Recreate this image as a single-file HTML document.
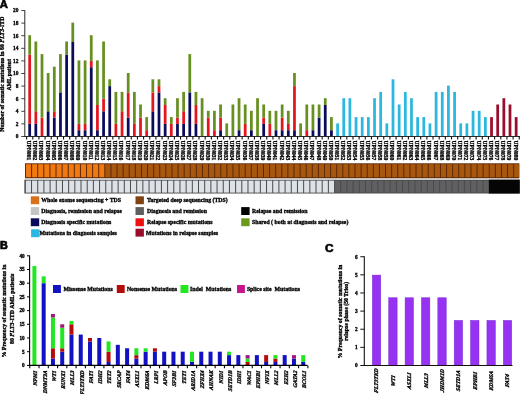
<!DOCTYPE html>
<html><head><meta charset="utf-8"><style>
html,body{margin:0;padding:0;background:#fff;}
body{width:520px;height:394px;overflow:hidden;}
svg{display:block;will-change:transform;filter:blur(0.3px);}
</style></head><body>
<svg width="520" height="394" viewBox="0 0 520 394">
<rect width="520" height="394" fill="#fff"/>
<text x="-0.2" y="8.2" font-family='"Liberation Sans", sans-serif' font-size="11.3" font-weight="bold" text-anchor="start" fill="#000" stroke="#000" stroke-width="0.6">A</text>
<rect x="28.3" y="123.9" width="2.75" height="12.6" fill="#0b0b5c"/>
<rect x="28.3" y="54.6" width="2.75" height="69.3" fill="#e3151f"/>
<rect x="28.3" y="35.2" width="2.75" height="19.4" fill="#66901f"/>
<rect x="34.46" y="123.9" width="2.75" height="12.6" fill="#0b0b5c"/>
<rect x="34.46" y="111.3" width="2.75" height="12.6" fill="#e3151f"/>
<rect x="34.46" y="41.5" width="2.75" height="69.8" fill="#66901f"/>
<rect x="40.62" y="117.6" width="2.75" height="18.9" fill="#e3151f"/>
<rect x="40.62" y="54.1" width="2.75" height="63.5" fill="#66901f"/>
<rect x="46.77" y="111.3" width="2.75" height="25.2" fill="#0b0b5c"/>
<rect x="46.77" y="73" width="2.75" height="38.3" fill="#66901f"/>
<rect x="52.93" y="117.6" width="2.75" height="18.9" fill="#0b0b5c"/>
<rect x="52.93" y="111.3" width="2.75" height="6.3" fill="#e3151f"/>
<rect x="52.93" y="66.7" width="2.75" height="44.6" fill="#66901f"/>
<rect x="59.09" y="92.4" width="2.75" height="44.1" fill="#0b0b5c"/>
<rect x="59.09" y="54.1" width="2.75" height="38.3" fill="#66901f"/>
<rect x="65.25" y="54.6" width="2.75" height="81.9" fill="#0b0b5c"/>
<rect x="65.25" y="41.5" width="2.75" height="13.1" fill="#66901f"/>
<rect x="71.41" y="42" width="2.75" height="94.5" fill="#0b0b5c"/>
<rect x="71.41" y="22.6" width="2.75" height="19.4" fill="#66901f"/>
<rect x="77.56" y="130.2" width="2.75" height="6.3" fill="#0b0b5c"/>
<rect x="77.56" y="123.9" width="2.75" height="6.3" fill="#e3151f"/>
<rect x="77.56" y="60.4" width="2.75" height="63.5" fill="#66901f"/>
<rect x="83.72" y="130.2" width="2.75" height="6.3" fill="#0b0b5c"/>
<rect x="83.72" y="123.9" width="2.75" height="6.3" fill="#e3151f"/>
<rect x="83.72" y="60.4" width="2.75" height="63.5" fill="#66901f"/>
<rect x="89.88" y="67.2" width="2.75" height="69.3" fill="#0b0b5c"/>
<rect x="89.88" y="60.9" width="2.75" height="6.3" fill="#e3151f"/>
<rect x="89.88" y="35.2" width="2.75" height="25.7" fill="#66901f"/>
<rect x="96.04" y="130.2" width="2.75" height="6.3" fill="#0b0b5c"/>
<rect x="96.04" y="105" width="2.75" height="25.2" fill="#e3151f"/>
<rect x="96.04" y="60.4" width="2.75" height="44.6" fill="#66901f"/>
<rect x="102.2" y="111.3" width="2.75" height="25.2" fill="#0b0b5c"/>
<rect x="102.2" y="98.7" width="2.75" height="12.6" fill="#e3151f"/>
<rect x="102.2" y="41.5" width="2.75" height="57.2" fill="#66901f"/>
<rect x="108.35" y="86.1" width="2.75" height="50.4" fill="#0b0b5c"/>
<rect x="108.35" y="79.3" width="2.75" height="6.8" fill="#66901f"/>
<rect x="114.51" y="123.9" width="2.75" height="12.6" fill="#e3151f"/>
<rect x="114.51" y="91.9" width="2.75" height="32" fill="#66901f"/>
<rect x="120.67" y="111.3" width="2.75" height="25.2" fill="#e3151f"/>
<rect x="120.67" y="91.9" width="2.75" height="19.4" fill="#66901f"/>
<rect x="126.83" y="117.6" width="2.75" height="18.9" fill="#0b0b5c"/>
<rect x="126.83" y="92.4" width="2.75" height="25.2" fill="#e3151f"/>
<rect x="126.83" y="73" width="2.75" height="19.4" fill="#66901f"/>
<rect x="132.99" y="123.9" width="2.75" height="12.6" fill="#e3151f"/>
<rect x="132.99" y="91.9" width="2.75" height="32" fill="#66901f"/>
<rect x="139.14" y="117.6" width="2.75" height="18.9" fill="#e3151f"/>
<rect x="139.14" y="104.5" width="2.75" height="13.1" fill="#66901f"/>
<rect x="145.3" y="130.2" width="2.75" height="6.3" fill="#e3151f"/>
<rect x="145.3" y="117.1" width="2.75" height="13.1" fill="#66901f"/>
<rect x="151.46" y="111.3" width="2.75" height="25.2" fill="#0b0b5c"/>
<rect x="151.46" y="92.4" width="2.75" height="18.9" fill="#e3151f"/>
<rect x="151.46" y="79.3" width="2.75" height="13.1" fill="#66901f"/>
<rect x="157.62" y="92.4" width="2.75" height="44.1" fill="#0b0b5c"/>
<rect x="157.62" y="86.1" width="2.75" height="6.3" fill="#e3151f"/>
<rect x="157.62" y="79.3" width="2.75" height="6.8" fill="#66901f"/>
<rect x="163.78" y="123.9" width="2.75" height="12.6" fill="#0b0b5c"/>
<rect x="163.78" y="105" width="2.75" height="18.9" fill="#e3151f"/>
<rect x="163.78" y="98.2" width="2.75" height="6.8" fill="#66901f"/>
<rect x="169.93" y="123.9" width="2.75" height="12.6" fill="#e3151f"/>
<rect x="169.93" y="117.1" width="2.75" height="6.8" fill="#66901f"/>
<rect x="176.09" y="123.9" width="2.75" height="12.6" fill="#0b0b5c"/>
<rect x="176.09" y="117.6" width="2.75" height="6.3" fill="#e3151f"/>
<rect x="176.09" y="98.2" width="2.75" height="19.4" fill="#66901f"/>
<rect x="182.25" y="123.9" width="2.75" height="12.6" fill="#0b0b5c"/>
<rect x="182.25" y="111.3" width="2.75" height="12.6" fill="#e3151f"/>
<rect x="182.25" y="91.9" width="2.75" height="19.4" fill="#66901f"/>
<rect x="188.41" y="92.4" width="2.75" height="44.1" fill="#0b0b5c"/>
<rect x="188.41" y="54.1" width="2.75" height="38.3" fill="#66901f"/>
<rect x="194.57" y="123.9" width="2.75" height="12.6" fill="#0b0b5c"/>
<rect x="194.57" y="105" width="2.75" height="18.9" fill="#e3151f"/>
<rect x="194.57" y="91.9" width="2.75" height="13.1" fill="#66901f"/>
<rect x="200.72" y="98.2" width="2.75" height="38.3" fill="#66901f"/>
<rect x="206.88" y="117.6" width="2.75" height="18.9" fill="#e3151f"/>
<rect x="206.88" y="110.8" width="2.75" height="6.8" fill="#66901f"/>
<rect x="213.04" y="130.2" width="2.75" height="6.3" fill="#e3151f"/>
<rect x="213.04" y="110.8" width="2.75" height="19.4" fill="#66901f"/>
<rect x="219.2" y="130.2" width="2.75" height="6.3" fill="#0b0b5c"/>
<rect x="219.2" y="117.6" width="2.75" height="12.6" fill="#e3151f"/>
<rect x="219.2" y="104.5" width="2.75" height="13.1" fill="#66901f"/>
<rect x="225.36" y="123.4" width="2.75" height="13.1" fill="#66901f"/>
<rect x="231.51" y="104.5" width="2.75" height="32" fill="#66901f"/>
<rect x="237.67" y="130.2" width="2.75" height="6.3" fill="#0b0b5c"/>
<rect x="237.67" y="98.2" width="2.75" height="32" fill="#66901f"/>
<rect x="243.83" y="123.9" width="2.75" height="12.6" fill="#e3151f"/>
<rect x="243.83" y="104.5" width="2.75" height="19.4" fill="#66901f"/>
<rect x="249.99" y="130.2" width="2.75" height="6.3" fill="#0b0b5c"/>
<rect x="249.99" y="110.8" width="2.75" height="19.4" fill="#66901f"/>
<rect x="256.15" y="98.2" width="2.75" height="38.3" fill="#66901f"/>
<rect x="262.3" y="123.9" width="2.75" height="12.6" fill="#0b0b5c"/>
<rect x="262.3" y="117.6" width="2.75" height="6.3" fill="#e3151f"/>
<rect x="262.3" y="104.5" width="2.75" height="13.1" fill="#66901f"/>
<rect x="268.46" y="123.9" width="2.75" height="12.6" fill="#e3151f"/>
<rect x="268.46" y="110.8" width="2.75" height="13.1" fill="#66901f"/>
<rect x="274.62" y="130.2" width="2.75" height="6.3" fill="#0b0b5c"/>
<rect x="274.62" y="110.8" width="2.75" height="19.4" fill="#66901f"/>
<rect x="280.78" y="130.2" width="2.75" height="6.3" fill="#0b0b5c"/>
<rect x="280.78" y="117.6" width="2.75" height="12.6" fill="#e3151f"/>
<rect x="280.78" y="104.5" width="2.75" height="13.1" fill="#66901f"/>
<rect x="286.94" y="130.2" width="2.75" height="6.3" fill="#0b0b5c"/>
<rect x="286.94" y="123.9" width="2.75" height="6.3" fill="#e3151f"/>
<rect x="286.94" y="110.8" width="2.75" height="13.1" fill="#66901f"/>
<rect x="293.09" y="130.2" width="2.75" height="6.3" fill="#0b0b5c"/>
<rect x="293.09" y="86.1" width="2.75" height="44.1" fill="#e3151f"/>
<rect x="293.09" y="73" width="2.75" height="13.1" fill="#66901f"/>
<rect x="299.25" y="123.4" width="2.75" height="13.1" fill="#66901f"/>
<rect x="305.41" y="130.2" width="2.75" height="6.3" fill="#e3151f"/>
<rect x="305.41" y="104.5" width="2.75" height="25.7" fill="#66901f"/>
<rect x="311.57" y="130.2" width="2.75" height="6.3" fill="#0b0b5c"/>
<rect x="311.57" y="104.5" width="2.75" height="25.7" fill="#66901f"/>
<rect x="317.73" y="117.6" width="2.75" height="18.9" fill="#0b0b5c"/>
<rect x="317.73" y="104.5" width="2.75" height="13.1" fill="#66901f"/>
<rect x="323.88" y="105" width="2.75" height="31.5" fill="#0b0b5c"/>
<rect x="323.88" y="98.2" width="2.75" height="6.8" fill="#66901f"/>
<rect x="330.04" y="130.2" width="2.75" height="6.3" fill="#0b0b5c"/>
<rect x="330.04" y="117.1" width="2.75" height="13.1" fill="#66901f"/>
<rect x="336.2" y="123.4" width="2.75" height="13.1" fill="#2bb7df"/>
<rect x="342.36" y="98.2" width="2.75" height="38.3" fill="#2bb7df"/>
<rect x="348.52" y="98.2" width="2.75" height="38.3" fill="#2bb7df"/>
<rect x="354.67" y="117.1" width="2.75" height="19.4" fill="#2bb7df"/>
<rect x="360.83" y="117.1" width="2.75" height="19.4" fill="#2bb7df"/>
<rect x="366.99" y="117.1" width="2.75" height="19.4" fill="#2bb7df"/>
<rect x="373.15" y="98.2" width="2.75" height="38.3" fill="#2bb7df"/>
<rect x="379.31" y="91.9" width="2.75" height="44.6" fill="#2bb7df"/>
<rect x="385.46" y="123.4" width="2.75" height="13.1" fill="#2bb7df"/>
<rect x="391.62" y="79.3" width="2.75" height="57.2" fill="#2bb7df"/>
<rect x="397.78" y="104.5" width="2.75" height="32" fill="#2bb7df"/>
<rect x="403.94" y="91.9" width="2.75" height="44.6" fill="#2bb7df"/>
<rect x="410.1" y="98.2" width="2.75" height="38.3" fill="#2bb7df"/>
<rect x="416.25" y="117.1" width="2.75" height="19.4" fill="#2bb7df"/>
<rect x="422.41" y="117.1" width="2.75" height="19.4" fill="#2bb7df"/>
<rect x="428.57" y="123.4" width="2.75" height="13.1" fill="#2bb7df"/>
<rect x="434.73" y="91.9" width="2.75" height="44.6" fill="#2bb7df"/>
<rect x="440.89" y="91.9" width="2.75" height="44.6" fill="#2bb7df"/>
<rect x="447.04" y="85.6" width="2.75" height="50.9" fill="#2bb7df"/>
<rect x="453.2" y="91.9" width="2.75" height="44.6" fill="#2bb7df"/>
<rect x="459.36" y="123.4" width="2.75" height="13.1" fill="#2bb7df"/>
<rect x="465.52" y="123.4" width="2.75" height="13.1" fill="#2bb7df"/>
<rect x="471.68" y="110.8" width="2.75" height="25.7" fill="#2bb7df"/>
<rect x="477.83" y="110.8" width="2.75" height="25.7" fill="#2bb7df"/>
<rect x="483.99" y="117.1" width="2.75" height="19.4" fill="#2bb7df"/>
<rect x="490.15" y="117.1" width="2.75" height="19.4" fill="#990c2c"/>
<rect x="496.31" y="104.5" width="2.75" height="32" fill="#990c2c"/>
<rect x="502.47" y="98.2" width="2.75" height="38.3" fill="#990c2c"/>
<rect x="508.62" y="104.5" width="2.75" height="32" fill="#990c2c"/>
<rect x="514.78" y="117.1" width="2.75" height="19.4" fill="#990c2c"/>
<line x1="24.8" y1="10.1" x2="24.8" y2="137" stroke="#2a2a2a" stroke-width="1"/>
<line x1="21.3" y1="136.5" x2="24.8" y2="136.5" stroke="#2a2a2a" stroke-width="0.9"/>
<text x="18.5" y="138.3" font-family='"Liberation Serif", serif' font-size="5.4" font-weight="bold" text-anchor="end" fill="#000" stroke="#000" stroke-width="0.32">0</text>
<line x1="21.3" y1="123.9" x2="24.8" y2="123.9" stroke="#2a2a2a" stroke-width="0.9"/>
<text x="18.5" y="125.7" font-family='"Liberation Serif", serif' font-size="5.4" font-weight="bold" text-anchor="end" fill="#000" stroke="#000" stroke-width="0.32">2</text>
<line x1="21.3" y1="111.3" x2="24.8" y2="111.3" stroke="#2a2a2a" stroke-width="0.9"/>
<text x="18.5" y="113.1" font-family='"Liberation Serif", serif' font-size="5.4" font-weight="bold" text-anchor="end" fill="#000" stroke="#000" stroke-width="0.32">4</text>
<line x1="21.3" y1="98.7" x2="24.8" y2="98.7" stroke="#2a2a2a" stroke-width="0.9"/>
<text x="18.5" y="100.5" font-family='"Liberation Serif", serif' font-size="5.4" font-weight="bold" text-anchor="end" fill="#000" stroke="#000" stroke-width="0.32">6</text>
<line x1="21.3" y1="86.1" x2="24.8" y2="86.1" stroke="#2a2a2a" stroke-width="0.9"/>
<text x="18.5" y="87.9" font-family='"Liberation Serif", serif' font-size="5.4" font-weight="bold" text-anchor="end" fill="#000" stroke="#000" stroke-width="0.32">8</text>
<line x1="21.3" y1="73.5" x2="24.8" y2="73.5" stroke="#2a2a2a" stroke-width="0.9"/>
<text x="18.5" y="75.3" font-family='"Liberation Serif", serif' font-size="5.4" font-weight="bold" text-anchor="end" fill="#000" stroke="#000" stroke-width="0.32">10</text>
<line x1="21.3" y1="60.9" x2="24.8" y2="60.9" stroke="#2a2a2a" stroke-width="0.9"/>
<text x="18.5" y="62.7" font-family='"Liberation Serif", serif' font-size="5.4" font-weight="bold" text-anchor="end" fill="#000" stroke="#000" stroke-width="0.32">12</text>
<line x1="21.3" y1="48.3" x2="24.8" y2="48.3" stroke="#2a2a2a" stroke-width="0.9"/>
<text x="18.5" y="50.1" font-family='"Liberation Serif", serif' font-size="5.4" font-weight="bold" text-anchor="end" fill="#000" stroke="#000" stroke-width="0.32">14</text>
<line x1="21.3" y1="35.7" x2="24.8" y2="35.7" stroke="#2a2a2a" stroke-width="0.9"/>
<text x="18.5" y="37.5" font-family='"Liberation Serif", serif' font-size="5.4" font-weight="bold" text-anchor="end" fill="#000" stroke="#000" stroke-width="0.32">16</text>
<line x1="21.3" y1="23.1" x2="24.8" y2="23.1" stroke="#2a2a2a" stroke-width="0.9"/>
<text x="18.5" y="24.9" font-family='"Liberation Serif", serif' font-size="5.4" font-weight="bold" text-anchor="end" fill="#000" stroke="#000" stroke-width="0.32">18</text>
<line x1="21.3" y1="10.5" x2="24.8" y2="10.5" stroke="#2a2a2a" stroke-width="0.9"/>
<text x="18.5" y="12.3" font-family='"Liberation Serif", serif' font-size="5.4" font-weight="bold" text-anchor="end" fill="#000" stroke="#000" stroke-width="0.32">20</text>
<line x1="24.3" y1="136.5" x2="520" y2="136.5" stroke="#2a2a2a" stroke-width="1"/>
<line x1="26.6" y1="136.5" x2="26.6" y2="139.4" stroke="#111" stroke-width="1.1"/>
<line x1="32.76" y1="136.5" x2="32.76" y2="139.4" stroke="#111" stroke-width="1.1"/>
<line x1="38.92" y1="136.5" x2="38.92" y2="139.4" stroke="#111" stroke-width="1.1"/>
<line x1="45.07" y1="136.5" x2="45.07" y2="139.4" stroke="#111" stroke-width="1.1"/>
<line x1="51.23" y1="136.5" x2="51.23" y2="139.4" stroke="#111" stroke-width="1.1"/>
<line x1="57.39" y1="136.5" x2="57.39" y2="139.4" stroke="#111" stroke-width="1.1"/>
<line x1="63.55" y1="136.5" x2="63.55" y2="139.4" stroke="#111" stroke-width="1.1"/>
<line x1="69.71" y1="136.5" x2="69.71" y2="139.4" stroke="#111" stroke-width="1.1"/>
<line x1="75.86" y1="136.5" x2="75.86" y2="139.4" stroke="#111" stroke-width="1.1"/>
<line x1="82.02" y1="136.5" x2="82.02" y2="139.4" stroke="#111" stroke-width="1.1"/>
<line x1="88.18" y1="136.5" x2="88.18" y2="139.4" stroke="#111" stroke-width="1.1"/>
<line x1="94.34" y1="136.5" x2="94.34" y2="139.4" stroke="#111" stroke-width="1.1"/>
<line x1="100.5" y1="136.5" x2="100.5" y2="139.4" stroke="#111" stroke-width="1.1"/>
<line x1="106.65" y1="136.5" x2="106.65" y2="139.4" stroke="#111" stroke-width="1.1"/>
<line x1="112.81" y1="136.5" x2="112.81" y2="139.4" stroke="#111" stroke-width="1.1"/>
<line x1="118.97" y1="136.5" x2="118.97" y2="139.4" stroke="#111" stroke-width="1.1"/>
<line x1="125.13" y1="136.5" x2="125.13" y2="139.4" stroke="#111" stroke-width="1.1"/>
<line x1="131.29" y1="136.5" x2="131.29" y2="139.4" stroke="#111" stroke-width="1.1"/>
<line x1="137.44" y1="136.5" x2="137.44" y2="139.4" stroke="#111" stroke-width="1.1"/>
<line x1="143.6" y1="136.5" x2="143.6" y2="139.4" stroke="#111" stroke-width="1.1"/>
<line x1="149.76" y1="136.5" x2="149.76" y2="139.4" stroke="#111" stroke-width="1.1"/>
<line x1="155.92" y1="136.5" x2="155.92" y2="139.4" stroke="#111" stroke-width="1.1"/>
<line x1="162.08" y1="136.5" x2="162.08" y2="139.4" stroke="#111" stroke-width="1.1"/>
<line x1="168.23" y1="136.5" x2="168.23" y2="139.4" stroke="#111" stroke-width="1.1"/>
<line x1="174.39" y1="136.5" x2="174.39" y2="139.4" stroke="#111" stroke-width="1.1"/>
<line x1="180.55" y1="136.5" x2="180.55" y2="139.4" stroke="#111" stroke-width="1.1"/>
<line x1="186.71" y1="136.5" x2="186.71" y2="139.4" stroke="#111" stroke-width="1.1"/>
<line x1="192.87" y1="136.5" x2="192.87" y2="139.4" stroke="#111" stroke-width="1.1"/>
<line x1="199.02" y1="136.5" x2="199.02" y2="139.4" stroke="#111" stroke-width="1.1"/>
<line x1="205.18" y1="136.5" x2="205.18" y2="139.4" stroke="#111" stroke-width="1.1"/>
<line x1="211.34" y1="136.5" x2="211.34" y2="139.4" stroke="#111" stroke-width="1.1"/>
<line x1="217.5" y1="136.5" x2="217.5" y2="139.4" stroke="#111" stroke-width="1.1"/>
<line x1="223.66" y1="136.5" x2="223.66" y2="139.4" stroke="#111" stroke-width="1.1"/>
<line x1="229.81" y1="136.5" x2="229.81" y2="139.4" stroke="#111" stroke-width="1.1"/>
<line x1="235.97" y1="136.5" x2="235.97" y2="139.4" stroke="#111" stroke-width="1.1"/>
<line x1="242.13" y1="136.5" x2="242.13" y2="139.4" stroke="#111" stroke-width="1.1"/>
<line x1="248.29" y1="136.5" x2="248.29" y2="139.4" stroke="#111" stroke-width="1.1"/>
<line x1="254.45" y1="136.5" x2="254.45" y2="139.4" stroke="#111" stroke-width="1.1"/>
<line x1="260.6" y1="136.5" x2="260.6" y2="139.4" stroke="#111" stroke-width="1.1"/>
<line x1="266.76" y1="136.5" x2="266.76" y2="139.4" stroke="#111" stroke-width="1.1"/>
<line x1="272.92" y1="136.5" x2="272.92" y2="139.4" stroke="#111" stroke-width="1.1"/>
<line x1="279.08" y1="136.5" x2="279.08" y2="139.4" stroke="#111" stroke-width="1.1"/>
<line x1="285.24" y1="136.5" x2="285.24" y2="139.4" stroke="#111" stroke-width="1.1"/>
<line x1="291.39" y1="136.5" x2="291.39" y2="139.4" stroke="#111" stroke-width="1.1"/>
<line x1="297.55" y1="136.5" x2="297.55" y2="139.4" stroke="#111" stroke-width="1.1"/>
<line x1="303.71" y1="136.5" x2="303.71" y2="139.4" stroke="#111" stroke-width="1.1"/>
<line x1="309.87" y1="136.5" x2="309.87" y2="139.4" stroke="#111" stroke-width="1.1"/>
<line x1="316.03" y1="136.5" x2="316.03" y2="139.4" stroke="#111" stroke-width="1.1"/>
<line x1="322.18" y1="136.5" x2="322.18" y2="139.4" stroke="#111" stroke-width="1.1"/>
<line x1="328.34" y1="136.5" x2="328.34" y2="139.4" stroke="#111" stroke-width="1.1"/>
<line x1="334.5" y1="136.5" x2="334.5" y2="139.4" stroke="#111" stroke-width="1.1"/>
<line x1="340.66" y1="136.5" x2="340.66" y2="139.4" stroke="#111" stroke-width="1.1"/>
<line x1="346.82" y1="136.5" x2="346.82" y2="139.4" stroke="#111" stroke-width="1.1"/>
<line x1="352.97" y1="136.5" x2="352.97" y2="139.4" stroke="#111" stroke-width="1.1"/>
<line x1="359.13" y1="136.5" x2="359.13" y2="139.4" stroke="#111" stroke-width="1.1"/>
<line x1="365.29" y1="136.5" x2="365.29" y2="139.4" stroke="#111" stroke-width="1.1"/>
<line x1="371.45" y1="136.5" x2="371.45" y2="139.4" stroke="#111" stroke-width="1.1"/>
<line x1="377.61" y1="136.5" x2="377.61" y2="139.4" stroke="#111" stroke-width="1.1"/>
<line x1="383.76" y1="136.5" x2="383.76" y2="139.4" stroke="#111" stroke-width="1.1"/>
<line x1="389.92" y1="136.5" x2="389.92" y2="139.4" stroke="#111" stroke-width="1.1"/>
<line x1="396.08" y1="136.5" x2="396.08" y2="139.4" stroke="#111" stroke-width="1.1"/>
<line x1="402.24" y1="136.5" x2="402.24" y2="139.4" stroke="#111" stroke-width="1.1"/>
<line x1="408.4" y1="136.5" x2="408.4" y2="139.4" stroke="#111" stroke-width="1.1"/>
<line x1="414.55" y1="136.5" x2="414.55" y2="139.4" stroke="#111" stroke-width="1.1"/>
<line x1="420.71" y1="136.5" x2="420.71" y2="139.4" stroke="#111" stroke-width="1.1"/>
<line x1="426.87" y1="136.5" x2="426.87" y2="139.4" stroke="#111" stroke-width="1.1"/>
<line x1="433.03" y1="136.5" x2="433.03" y2="139.4" stroke="#111" stroke-width="1.1"/>
<line x1="439.19" y1="136.5" x2="439.19" y2="139.4" stroke="#111" stroke-width="1.1"/>
<line x1="445.34" y1="136.5" x2="445.34" y2="139.4" stroke="#111" stroke-width="1.1"/>
<line x1="451.5" y1="136.5" x2="451.5" y2="139.4" stroke="#111" stroke-width="1.1"/>
<line x1="457.66" y1="136.5" x2="457.66" y2="139.4" stroke="#111" stroke-width="1.1"/>
<line x1="463.82" y1="136.5" x2="463.82" y2="139.4" stroke="#111" stroke-width="1.1"/>
<line x1="469.98" y1="136.5" x2="469.98" y2="139.4" stroke="#111" stroke-width="1.1"/>
<line x1="476.13" y1="136.5" x2="476.13" y2="139.4" stroke="#111" stroke-width="1.1"/>
<line x1="482.29" y1="136.5" x2="482.29" y2="139.4" stroke="#111" stroke-width="1.1"/>
<line x1="488.45" y1="136.5" x2="488.45" y2="139.4" stroke="#111" stroke-width="1.1"/>
<line x1="494.61" y1="136.5" x2="494.61" y2="139.4" stroke="#111" stroke-width="1.1"/>
<line x1="500.77" y1="136.5" x2="500.77" y2="139.4" stroke="#111" stroke-width="1.1"/>
<line x1="506.92" y1="136.5" x2="506.92" y2="139.4" stroke="#111" stroke-width="1.1"/>
<line x1="513.08" y1="136.5" x2="513.08" y2="139.4" stroke="#111" stroke-width="1.1"/>
<line x1="519.24" y1="136.5" x2="519.24" y2="139.4" stroke="#111" stroke-width="1.1"/>
<text transform="translate(27.1,140.6) rotate(90)" font-family='"Liberation Serif", serif' font-size="5.5" font-weight="bold" text-anchor="start" fill="#000" stroke="#000" stroke-width="0.32">UPN001</text>
<text transform="translate(33.26,140.6) rotate(90)" font-family='"Liberation Serif", serif' font-size="5.5" font-weight="bold" text-anchor="start" fill="#000" stroke="#000" stroke-width="0.32">UPN002</text>
<text transform="translate(39.42,140.6) rotate(90)" font-family='"Liberation Serif", serif' font-size="5.5" font-weight="bold" text-anchor="start" fill="#000" stroke="#000" stroke-width="0.32">UPN003</text>
<text transform="translate(45.57,140.6) rotate(90)" font-family='"Liberation Serif", serif' font-size="5.5" font-weight="bold" text-anchor="start" fill="#000" stroke="#000" stroke-width="0.32">UPN004</text>
<text transform="translate(51.73,140.6) rotate(90)" font-family='"Liberation Serif", serif' font-size="5.5" font-weight="bold" text-anchor="start" fill="#000" stroke="#000" stroke-width="0.32">UPN005</text>
<text transform="translate(57.89,140.6) rotate(90)" font-family='"Liberation Serif", serif' font-size="5.5" font-weight="bold" text-anchor="start" fill="#000" stroke="#000" stroke-width="0.32">UPN006</text>
<text transform="translate(64.05,140.6) rotate(90)" font-family='"Liberation Serif", serif' font-size="5.5" font-weight="bold" text-anchor="start" fill="#000" stroke="#000" stroke-width="0.32">UPN007</text>
<text transform="translate(70.21,140.6) rotate(90)" font-family='"Liberation Serif", serif' font-size="5.5" font-weight="bold" text-anchor="start" fill="#000" stroke="#000" stroke-width="0.32">UPN008</text>
<text transform="translate(76.36,140.6) rotate(90)" font-family='"Liberation Serif", serif' font-size="5.5" font-weight="bold" text-anchor="start" fill="#000" stroke="#000" stroke-width="0.32">UPN009</text>
<text transform="translate(82.52,140.6) rotate(90)" font-family='"Liberation Serif", serif' font-size="5.5" font-weight="bold" text-anchor="start" fill="#000" stroke="#000" stroke-width="0.32">UPN010</text>
<text transform="translate(88.68,140.6) rotate(90)" font-family='"Liberation Serif", serif' font-size="5.5" font-weight="bold" text-anchor="start" fill="#000" stroke="#000" stroke-width="0.32">UPN011</text>
<text transform="translate(94.84,140.6) rotate(90)" font-family='"Liberation Serif", serif' font-size="5.5" font-weight="bold" text-anchor="start" fill="#000" stroke="#000" stroke-width="0.32">UPN012</text>
<text transform="translate(101,140.6) rotate(90)" font-family='"Liberation Serif", serif' font-size="5.5" font-weight="bold" text-anchor="start" fill="#000" stroke="#000" stroke-width="0.32">UPN013</text>
<text transform="translate(107.15,140.6) rotate(90)" font-family='"Liberation Serif", serif' font-size="5.5" font-weight="bold" text-anchor="start" fill="#000" stroke="#000" stroke-width="0.32">UPN014</text>
<text transform="translate(113.31,140.6) rotate(90)" font-family='"Liberation Serif", serif' font-size="5.5" font-weight="bold" text-anchor="start" fill="#000" stroke="#000" stroke-width="0.32">UPN015</text>
<text transform="translate(119.47,140.6) rotate(90)" font-family='"Liberation Serif", serif' font-size="5.5" font-weight="bold" text-anchor="start" fill="#000" stroke="#000" stroke-width="0.32">UPN016</text>
<text transform="translate(125.63,140.6) rotate(90)" font-family='"Liberation Serif", serif' font-size="5.5" font-weight="bold" text-anchor="start" fill="#000" stroke="#000" stroke-width="0.32">UPN017</text>
<text transform="translate(131.79,140.6) rotate(90)" font-family='"Liberation Serif", serif' font-size="5.5" font-weight="bold" text-anchor="start" fill="#000" stroke="#000" stroke-width="0.32">UPN018</text>
<text transform="translate(137.94,140.6) rotate(90)" font-family='"Liberation Serif", serif' font-size="5.5" font-weight="bold" text-anchor="start" fill="#000" stroke="#000" stroke-width="0.32">UPN019</text>
<text transform="translate(144.1,140.6) rotate(90)" font-family='"Liberation Serif", serif' font-size="5.5" font-weight="bold" text-anchor="start" fill="#000" stroke="#000" stroke-width="0.32">UPN020</text>
<text transform="translate(150.26,140.6) rotate(90)" font-family='"Liberation Serif", serif' font-size="5.5" font-weight="bold" text-anchor="start" fill="#000" stroke="#000" stroke-width="0.32">UPN021</text>
<text transform="translate(156.42,140.6) rotate(90)" font-family='"Liberation Serif", serif' font-size="5.5" font-weight="bold" text-anchor="start" fill="#000" stroke="#000" stroke-width="0.32">UPN022</text>
<text transform="translate(162.58,140.6) rotate(90)" font-family='"Liberation Serif", serif' font-size="5.5" font-weight="bold" text-anchor="start" fill="#000" stroke="#000" stroke-width="0.32">UPN023</text>
<text transform="translate(168.73,140.6) rotate(90)" font-family='"Liberation Serif", serif' font-size="5.5" font-weight="bold" text-anchor="start" fill="#000" stroke="#000" stroke-width="0.32">UPN024</text>
<text transform="translate(174.89,140.6) rotate(90)" font-family='"Liberation Serif", serif' font-size="5.5" font-weight="bold" text-anchor="start" fill="#000" stroke="#000" stroke-width="0.32">UPN025</text>
<text transform="translate(181.05,140.6) rotate(90)" font-family='"Liberation Serif", serif' font-size="5.5" font-weight="bold" text-anchor="start" fill="#000" stroke="#000" stroke-width="0.32">UPN026</text>
<text transform="translate(187.21,140.6) rotate(90)" font-family='"Liberation Serif", serif' font-size="5.5" font-weight="bold" text-anchor="start" fill="#000" stroke="#000" stroke-width="0.32">UPN027</text>
<text transform="translate(193.37,140.6) rotate(90)" font-family='"Liberation Serif", serif' font-size="5.5" font-weight="bold" text-anchor="start" fill="#000" stroke="#000" stroke-width="0.32">UPN028</text>
<text transform="translate(199.52,140.6) rotate(90)" font-family='"Liberation Serif", serif' font-size="5.5" font-weight="bold" text-anchor="start" fill="#000" stroke="#000" stroke-width="0.32">UPN029</text>
<text transform="translate(205.68,140.6) rotate(90)" font-family='"Liberation Serif", serif' font-size="5.5" font-weight="bold" text-anchor="start" fill="#000" stroke="#000" stroke-width="0.32">UPN030</text>
<text transform="translate(211.84,140.6) rotate(90)" font-family='"Liberation Serif", serif' font-size="5.5" font-weight="bold" text-anchor="start" fill="#000" stroke="#000" stroke-width="0.32">UPN031</text>
<text transform="translate(218,140.6) rotate(90)" font-family='"Liberation Serif", serif' font-size="5.5" font-weight="bold" text-anchor="start" fill="#000" stroke="#000" stroke-width="0.32">UPN032</text>
<text transform="translate(224.16,140.6) rotate(90)" font-family='"Liberation Serif", serif' font-size="5.5" font-weight="bold" text-anchor="start" fill="#000" stroke="#000" stroke-width="0.32">UPN033</text>
<text transform="translate(230.31,140.6) rotate(90)" font-family='"Liberation Serif", serif' font-size="5.5" font-weight="bold" text-anchor="start" fill="#000" stroke="#000" stroke-width="0.32">UPN034</text>
<text transform="translate(236.47,140.6) rotate(90)" font-family='"Liberation Serif", serif' font-size="5.5" font-weight="bold" text-anchor="start" fill="#000" stroke="#000" stroke-width="0.32">UPN035</text>
<text transform="translate(242.63,140.6) rotate(90)" font-family='"Liberation Serif", serif' font-size="5.5" font-weight="bold" text-anchor="start" fill="#000" stroke="#000" stroke-width="0.32">UPN036</text>
<text transform="translate(248.79,140.6) rotate(90)" font-family='"Liberation Serif", serif' font-size="5.5" font-weight="bold" text-anchor="start" fill="#000" stroke="#000" stroke-width="0.32">UPN037</text>
<text transform="translate(254.95,140.6) rotate(90)" font-family='"Liberation Serif", serif' font-size="5.5" font-weight="bold" text-anchor="start" fill="#000" stroke="#000" stroke-width="0.32">UPN038</text>
<text transform="translate(261.1,140.6) rotate(90)" font-family='"Liberation Serif", serif' font-size="5.5" font-weight="bold" text-anchor="start" fill="#000" stroke="#000" stroke-width="0.32">UPN039</text>
<text transform="translate(267.26,140.6) rotate(90)" font-family='"Liberation Serif", serif' font-size="5.5" font-weight="bold" text-anchor="start" fill="#000" stroke="#000" stroke-width="0.32">UPN040</text>
<text transform="translate(273.42,140.6) rotate(90)" font-family='"Liberation Serif", serif' font-size="5.5" font-weight="bold" text-anchor="start" fill="#000" stroke="#000" stroke-width="0.32">UPN041</text>
<text transform="translate(279.58,140.6) rotate(90)" font-family='"Liberation Serif", serif' font-size="5.5" font-weight="bold" text-anchor="start" fill="#000" stroke="#000" stroke-width="0.32">UPN042</text>
<text transform="translate(285.74,140.6) rotate(90)" font-family='"Liberation Serif", serif' font-size="5.5" font-weight="bold" text-anchor="start" fill="#000" stroke="#000" stroke-width="0.32">UPN043</text>
<text transform="translate(291.89,140.6) rotate(90)" font-family='"Liberation Serif", serif' font-size="5.5" font-weight="bold" text-anchor="start" fill="#000" stroke="#000" stroke-width="0.32">UPN044</text>
<text transform="translate(298.05,140.6) rotate(90)" font-family='"Liberation Serif", serif' font-size="5.5" font-weight="bold" text-anchor="start" fill="#000" stroke="#000" stroke-width="0.32">UPN045</text>
<text transform="translate(304.21,140.6) rotate(90)" font-family='"Liberation Serif", serif' font-size="5.5" font-weight="bold" text-anchor="start" fill="#000" stroke="#000" stroke-width="0.32">UPN046</text>
<text transform="translate(310.37,140.6) rotate(90)" font-family='"Liberation Serif", serif' font-size="5.5" font-weight="bold" text-anchor="start" fill="#000" stroke="#000" stroke-width="0.32">UPN047</text>
<text transform="translate(316.53,140.6) rotate(90)" font-family='"Liberation Serif", serif' font-size="5.5" font-weight="bold" text-anchor="start" fill="#000" stroke="#000" stroke-width="0.32">UPN048</text>
<text transform="translate(322.68,140.6) rotate(90)" font-family='"Liberation Serif", serif' font-size="5.5" font-weight="bold" text-anchor="start" fill="#000" stroke="#000" stroke-width="0.32">UPN049</text>
<text transform="translate(328.84,140.6) rotate(90)" font-family='"Liberation Serif", serif' font-size="5.5" font-weight="bold" text-anchor="start" fill="#000" stroke="#000" stroke-width="0.32">UPN050</text>
<text transform="translate(335,140.6) rotate(90)" font-family='"Liberation Serif", serif' font-size="5.5" font-weight="bold" text-anchor="start" fill="#000" stroke="#000" stroke-width="0.32">UPN051</text>
<text transform="translate(341.16,140.6) rotate(90)" font-family='"Liberation Serif", serif' font-size="5.5" font-weight="bold" text-anchor="start" fill="#000" stroke="#000" stroke-width="0.32">UPN052</text>
<text transform="translate(347.32,140.6) rotate(90)" font-family='"Liberation Serif", serif' font-size="5.5" font-weight="bold" text-anchor="start" fill="#000" stroke="#000" stroke-width="0.32">UPN053</text>
<text transform="translate(353.47,140.6) rotate(90)" font-family='"Liberation Serif", serif' font-size="5.5" font-weight="bold" text-anchor="start" fill="#000" stroke="#000" stroke-width="0.32">UPN054</text>
<text transform="translate(359.63,140.6) rotate(90)" font-family='"Liberation Serif", serif' font-size="5.5" font-weight="bold" text-anchor="start" fill="#000" stroke="#000" stroke-width="0.32">UPN055</text>
<text transform="translate(365.79,140.6) rotate(90)" font-family='"Liberation Serif", serif' font-size="5.5" font-weight="bold" text-anchor="start" fill="#000" stroke="#000" stroke-width="0.32">UPN056</text>
<text transform="translate(371.95,140.6) rotate(90)" font-family='"Liberation Serif", serif' font-size="5.5" font-weight="bold" text-anchor="start" fill="#000" stroke="#000" stroke-width="0.32">UPN057</text>
<text transform="translate(378.11,140.6) rotate(90)" font-family='"Liberation Serif", serif' font-size="5.5" font-weight="bold" text-anchor="start" fill="#000" stroke="#000" stroke-width="0.32">UPN058</text>
<text transform="translate(384.26,140.6) rotate(90)" font-family='"Liberation Serif", serif' font-size="5.5" font-weight="bold" text-anchor="start" fill="#000" stroke="#000" stroke-width="0.32">UPN059</text>
<text transform="translate(390.42,140.6) rotate(90)" font-family='"Liberation Serif", serif' font-size="5.5" font-weight="bold" text-anchor="start" fill="#000" stroke="#000" stroke-width="0.32">UPN060</text>
<text transform="translate(396.58,140.6) rotate(90)" font-family='"Liberation Serif", serif' font-size="5.5" font-weight="bold" text-anchor="start" fill="#000" stroke="#000" stroke-width="0.32">UPN061</text>
<text transform="translate(402.74,140.6) rotate(90)" font-family='"Liberation Serif", serif' font-size="5.5" font-weight="bold" text-anchor="start" fill="#000" stroke="#000" stroke-width="0.32">UPN062</text>
<text transform="translate(408.9,140.6) rotate(90)" font-family='"Liberation Serif", serif' font-size="5.5" font-weight="bold" text-anchor="start" fill="#000" stroke="#000" stroke-width="0.32">UPN063</text>
<text transform="translate(415.05,140.6) rotate(90)" font-family='"Liberation Serif", serif' font-size="5.5" font-weight="bold" text-anchor="start" fill="#000" stroke="#000" stroke-width="0.32">UPN064</text>
<text transform="translate(421.21,140.6) rotate(90)" font-family='"Liberation Serif", serif' font-size="5.5" font-weight="bold" text-anchor="start" fill="#000" stroke="#000" stroke-width="0.32">UPN065</text>
<text transform="translate(427.37,140.6) rotate(90)" font-family='"Liberation Serif", serif' font-size="5.5" font-weight="bold" text-anchor="start" fill="#000" stroke="#000" stroke-width="0.32">UPN066</text>
<text transform="translate(433.53,140.6) rotate(90)" font-family='"Liberation Serif", serif' font-size="5.5" font-weight="bold" text-anchor="start" fill="#000" stroke="#000" stroke-width="0.32">UPN067</text>
<text transform="translate(439.69,140.6) rotate(90)" font-family='"Liberation Serif", serif' font-size="5.5" font-weight="bold" text-anchor="start" fill="#000" stroke="#000" stroke-width="0.32">UPN068</text>
<text transform="translate(445.84,140.6) rotate(90)" font-family='"Liberation Serif", serif' font-size="5.5" font-weight="bold" text-anchor="start" fill="#000" stroke="#000" stroke-width="0.32">UPN069</text>
<text transform="translate(452,140.6) rotate(90)" font-family='"Liberation Serif", serif' font-size="5.5" font-weight="bold" text-anchor="start" fill="#000" stroke="#000" stroke-width="0.32">UPN070</text>
<text transform="translate(458.16,140.6) rotate(90)" font-family='"Liberation Serif", serif' font-size="5.5" font-weight="bold" text-anchor="start" fill="#000" stroke="#000" stroke-width="0.32">UPN071</text>
<text transform="translate(464.32,140.6) rotate(90)" font-family='"Liberation Serif", serif' font-size="5.5" font-weight="bold" text-anchor="start" fill="#000" stroke="#000" stroke-width="0.32">UPN072</text>
<text transform="translate(470.48,140.6) rotate(90)" font-family='"Liberation Serif", serif' font-size="5.5" font-weight="bold" text-anchor="start" fill="#000" stroke="#000" stroke-width="0.32">UPN073</text>
<text transform="translate(476.63,140.6) rotate(90)" font-family='"Liberation Serif", serif' font-size="5.5" font-weight="bold" text-anchor="start" fill="#000" stroke="#000" stroke-width="0.32">UPN074</text>
<text transform="translate(482.79,140.6) rotate(90)" font-family='"Liberation Serif", serif' font-size="5.5" font-weight="bold" text-anchor="start" fill="#000" stroke="#000" stroke-width="0.32">UPN075</text>
<text transform="translate(488.95,140.6) rotate(90)" font-family='"Liberation Serif", serif' font-size="5.5" font-weight="bold" text-anchor="start" fill="#000" stroke="#000" stroke-width="0.32">UPN076</text>
<text transform="translate(495.11,140.6) rotate(90)" font-family='"Liberation Serif", serif' font-size="5.5" font-weight="bold" text-anchor="start" fill="#000" stroke="#000" stroke-width="0.32">UPN077</text>
<text transform="translate(501.27,140.6) rotate(90)" font-family='"Liberation Serif", serif' font-size="5.5" font-weight="bold" text-anchor="start" fill="#000" stroke="#000" stroke-width="0.32">UPN078</text>
<text transform="translate(507.42,140.6) rotate(90)" font-family='"Liberation Serif", serif' font-size="5.5" font-weight="bold" text-anchor="start" fill="#000" stroke="#000" stroke-width="0.32">UPN079</text>
<text transform="translate(513.58,140.6) rotate(90)" font-family='"Liberation Serif", serif' font-size="5.5" font-weight="bold" text-anchor="start" fill="#000" stroke="#000" stroke-width="0.32">UPN080</text>
<text transform="translate(4.4,74.15) rotate(-90)" font-family='"Liberation Serif", serif' font-size="5.84" font-weight="bold" text-anchor="middle" fill="#000" stroke="#000" stroke-width="0.32">Number of somatic mutations in 80 <tspan font-style="italic">FLT3</tspan>-ITD</text>
<text transform="translate(11.0,74.85) rotate(-90)" font-family='"Liberation Serif", serif' font-size="5.7" font-weight="bold" text-anchor="middle" fill="#000" stroke="#000" stroke-width="0.32">AML patient</text>
<rect x="25" y="163.3" width="494.3" height="15" fill="#5c2806"/>
<rect x="26" y="164.2" width="5.1" height="13" fill="#f07912"/>
<rect x="32.1" y="164.2" width="5.1" height="13" fill="#f07912"/>
<rect x="38.2" y="164.2" width="5.1" height="13" fill="#f07912"/>
<rect x="44.31" y="164.2" width="5.1" height="13" fill="#f07912"/>
<rect x="50.41" y="164.2" width="5.1" height="13" fill="#f07912"/>
<rect x="56.51" y="164.2" width="5.1" height="13" fill="#f07912"/>
<rect x="62.61" y="164.2" width="5.1" height="13" fill="#f07912"/>
<rect x="68.71" y="164.2" width="5.1" height="13" fill="#f07912"/>
<rect x="74.82" y="164.2" width="5.1" height="13" fill="#f07912"/>
<rect x="80.92" y="164.2" width="5.1" height="13" fill="#f07912"/>
<rect x="87.02" y="164.2" width="5.1" height="13" fill="#f07912"/>
<rect x="93.12" y="164.2" width="5.1" height="13" fill="#f07912"/>
<rect x="99.22" y="164.2" width="5.1" height="13" fill="#f07912"/>
<rect x="105.33" y="164.2" width="5.1" height="13" fill="#a8570f"/>
<rect x="111.43" y="164.2" width="5.1" height="13" fill="#a8570f"/>
<rect x="117.53" y="164.2" width="5.1" height="13" fill="#a8570f"/>
<rect x="123.63" y="164.2" width="5.1" height="13" fill="#a8570f"/>
<rect x="129.73" y="164.2" width="5.1" height="13" fill="#a8570f"/>
<rect x="135.84" y="164.2" width="5.1" height="13" fill="#a8570f"/>
<rect x="141.94" y="164.2" width="5.1" height="13" fill="#a8570f"/>
<rect x="148.04" y="164.2" width="5.1" height="13" fill="#a8570f"/>
<rect x="154.14" y="164.2" width="5.1" height="13" fill="#a8570f"/>
<rect x="160.24" y="164.2" width="5.1" height="13" fill="#a8570f"/>
<rect x="166.35" y="164.2" width="5.1" height="13" fill="#a8570f"/>
<rect x="172.45" y="164.2" width="5.1" height="13" fill="#a8570f"/>
<rect x="178.55" y="164.2" width="5.1" height="13" fill="#a8570f"/>
<rect x="184.65" y="164.2" width="5.1" height="13" fill="#a8570f"/>
<rect x="190.75" y="164.2" width="5.1" height="13" fill="#a8570f"/>
<rect x="196.86" y="164.2" width="5.1" height="13" fill="#a8570f"/>
<rect x="202.96" y="164.2" width="5.1" height="13" fill="#a8570f"/>
<rect x="209.06" y="164.2" width="5.1" height="13" fill="#a8570f"/>
<rect x="215.16" y="164.2" width="5.1" height="13" fill="#a8570f"/>
<rect x="221.26" y="164.2" width="5.1" height="13" fill="#a8570f"/>
<rect x="227.37" y="164.2" width="5.1" height="13" fill="#a8570f"/>
<rect x="233.47" y="164.2" width="5.1" height="13" fill="#a8570f"/>
<rect x="239.57" y="164.2" width="5.1" height="13" fill="#a8570f"/>
<rect x="245.67" y="164.2" width="5.1" height="13" fill="#a8570f"/>
<rect x="251.77" y="164.2" width="5.1" height="13" fill="#a8570f"/>
<rect x="257.88" y="164.2" width="5.1" height="13" fill="#a8570f"/>
<rect x="263.98" y="164.2" width="5.1" height="13" fill="#a8570f"/>
<rect x="270.08" y="164.2" width="5.1" height="13" fill="#a8570f"/>
<rect x="276.18" y="164.2" width="5.1" height="13" fill="#a8570f"/>
<rect x="282.28" y="164.2" width="5.1" height="13" fill="#a8570f"/>
<rect x="288.39" y="164.2" width="5.1" height="13" fill="#a8570f"/>
<rect x="294.49" y="164.2" width="5.1" height="13" fill="#a8570f"/>
<rect x="300.59" y="164.2" width="5.1" height="13" fill="#a8570f"/>
<rect x="306.69" y="164.2" width="5.1" height="13" fill="#a8570f"/>
<rect x="312.79" y="164.2" width="5.1" height="13" fill="#a8570f"/>
<rect x="318.9" y="164.2" width="5.1" height="13" fill="#a8570f"/>
<rect x="325" y="164.2" width="5.1" height="13" fill="#a8570f"/>
<rect x="331.1" y="164.2" width="5.1" height="13" fill="#a8570f"/>
<rect x="337.2" y="164.2" width="5.1" height="13" fill="#a8570f"/>
<rect x="343.3" y="164.2" width="5.1" height="13" fill="#a8570f"/>
<rect x="349.41" y="164.2" width="5.1" height="13" fill="#a8570f"/>
<rect x="355.51" y="164.2" width="5.1" height="13" fill="#a8570f"/>
<rect x="361.61" y="164.2" width="5.1" height="13" fill="#a8570f"/>
<rect x="367.71" y="164.2" width="5.1" height="13" fill="#a8570f"/>
<rect x="373.81" y="164.2" width="5.1" height="13" fill="#a8570f"/>
<rect x="379.92" y="164.2" width="5.1" height="13" fill="#a8570f"/>
<rect x="386.02" y="164.2" width="5.1" height="13" fill="#a8570f"/>
<rect x="392.12" y="164.2" width="5.1" height="13" fill="#a8570f"/>
<rect x="398.22" y="164.2" width="5.1" height="13" fill="#a8570f"/>
<rect x="404.32" y="164.2" width="5.1" height="13" fill="#a8570f"/>
<rect x="410.43" y="164.2" width="5.1" height="13" fill="#a8570f"/>
<rect x="416.53" y="164.2" width="5.1" height="13" fill="#a8570f"/>
<rect x="422.63" y="164.2" width="5.1" height="13" fill="#a8570f"/>
<rect x="428.73" y="164.2" width="5.1" height="13" fill="#a8570f"/>
<rect x="434.83" y="164.2" width="5.1" height="13" fill="#a8570f"/>
<rect x="440.94" y="164.2" width="5.1" height="13" fill="#a8570f"/>
<rect x="447.04" y="164.2" width="5.1" height="13" fill="#a8570f"/>
<rect x="453.14" y="164.2" width="5.1" height="13" fill="#a8570f"/>
<rect x="459.24" y="164.2" width="5.1" height="13" fill="#a8570f"/>
<rect x="465.34" y="164.2" width="5.1" height="13" fill="#a8570f"/>
<rect x="471.45" y="164.2" width="5.1" height="13" fill="#a8570f"/>
<rect x="477.55" y="164.2" width="5.1" height="13" fill="#a8570f"/>
<rect x="483.65" y="164.2" width="5.1" height="13" fill="#a8570f"/>
<rect x="489.75" y="164.2" width="5.1" height="13" fill="#a8570f"/>
<rect x="495.85" y="164.2" width="5.1" height="13" fill="#a8570f"/>
<rect x="501.96" y="164.2" width="5.1" height="13" fill="#a8570f"/>
<rect x="508.06" y="164.2" width="5.1" height="13" fill="#a8570f"/>
<rect x="514.16" y="164.2" width="5.1" height="13" fill="#a8570f"/>
<rect x="24.36" y="179.7" width="495.34" height="13.8" fill="#4a4a4a"/>
<rect x="488.76" y="179.7" width="30.94" height="13.8" fill="#050505"/>
<rect x="25.86" y="180.6" width="5.18" height="12" fill="#dde2e8"/>
<rect x="32.04" y="180.6" width="5.18" height="12" fill="#dde2e8"/>
<rect x="38.23" y="180.6" width="5.18" height="12" fill="#dde2e8"/>
<rect x="44.41" y="180.6" width="5.18" height="12" fill="#dde2e8"/>
<rect x="50.6" y="180.6" width="5.18" height="12" fill="#dde2e8"/>
<rect x="56.78" y="180.6" width="5.18" height="12" fill="#dde2e8"/>
<rect x="62.96" y="180.6" width="5.18" height="12" fill="#dde2e8"/>
<rect x="69.15" y="180.6" width="5.18" height="12" fill="#dde2e8"/>
<rect x="75.33" y="180.6" width="5.18" height="12" fill="#dde2e8"/>
<rect x="81.52" y="180.6" width="5.18" height="12" fill="#dde2e8"/>
<rect x="87.7" y="180.6" width="5.18" height="12" fill="#dde2e8"/>
<rect x="93.88" y="180.6" width="5.18" height="12" fill="#dde2e8"/>
<rect x="100.07" y="180.6" width="5.18" height="12" fill="#dde2e8"/>
<rect x="106.25" y="180.6" width="5.18" height="12" fill="#dde2e8"/>
<rect x="112.44" y="180.6" width="5.18" height="12" fill="#dde2e8"/>
<rect x="118.62" y="180.6" width="5.18" height="12" fill="#dde2e8"/>
<rect x="124.8" y="180.6" width="5.18" height="12" fill="#dde2e8"/>
<rect x="130.99" y="180.6" width="5.18" height="12" fill="#dde2e8"/>
<rect x="137.17" y="180.6" width="5.18" height="12" fill="#dde2e8"/>
<rect x="143.36" y="180.6" width="5.18" height="12" fill="#dde2e8"/>
<rect x="149.54" y="180.6" width="5.18" height="12" fill="#dde2e8"/>
<rect x="155.72" y="180.6" width="5.18" height="12" fill="#dde2e8"/>
<rect x="161.91" y="180.6" width="5.18" height="12" fill="#dde2e8"/>
<rect x="168.09" y="180.6" width="5.18" height="12" fill="#dde2e8"/>
<rect x="174.28" y="180.6" width="5.18" height="12" fill="#dde2e8"/>
<rect x="180.46" y="180.6" width="5.18" height="12" fill="#dde2e8"/>
<rect x="186.64" y="180.6" width="5.18" height="12" fill="#dde2e8"/>
<rect x="192.83" y="180.6" width="5.18" height="12" fill="#dde2e8"/>
<rect x="199.01" y="180.6" width="5.18" height="12" fill="#dde2e8"/>
<rect x="205.2" y="180.6" width="5.18" height="12" fill="#dde2e8"/>
<rect x="211.38" y="180.6" width="5.18" height="12" fill="#dde2e8"/>
<rect x="217.56" y="180.6" width="5.18" height="12" fill="#dde2e8"/>
<rect x="223.75" y="180.6" width="5.18" height="12" fill="#dde2e8"/>
<rect x="229.93" y="180.6" width="5.18" height="12" fill="#dde2e8"/>
<rect x="236.12" y="180.6" width="5.18" height="12" fill="#dde2e8"/>
<rect x="242.3" y="180.6" width="5.18" height="12" fill="#dde2e8"/>
<rect x="248.48" y="180.6" width="5.18" height="12" fill="#dde2e8"/>
<rect x="254.67" y="180.6" width="5.18" height="12" fill="#dde2e8"/>
<rect x="260.85" y="180.6" width="5.18" height="12" fill="#dde2e8"/>
<rect x="267.04" y="180.6" width="5.18" height="12" fill="#dde2e8"/>
<rect x="273.22" y="180.6" width="5.18" height="12" fill="#dde2e8"/>
<rect x="279.4" y="180.6" width="5.18" height="12" fill="#dde2e8"/>
<rect x="285.59" y="180.6" width="5.18" height="12" fill="#dde2e8"/>
<rect x="291.77" y="180.6" width="5.18" height="12" fill="#dde2e8"/>
<rect x="297.96" y="180.6" width="5.18" height="12" fill="#dde2e8"/>
<rect x="304.14" y="180.6" width="5.18" height="12" fill="#dde2e8"/>
<rect x="310.32" y="180.6" width="5.18" height="12" fill="#dde2e8"/>
<rect x="316.51" y="180.6" width="5.18" height="12" fill="#dde2e8"/>
<rect x="322.69" y="180.6" width="5.18" height="12" fill="#dde2e8"/>
<rect x="328.88" y="180.6" width="5.18" height="12" fill="#dde2e8"/>
<rect x="335.06" y="180.6" width="5.18" height="12" fill="#606063"/>
<rect x="341.24" y="180.6" width="5.18" height="12" fill="#606063"/>
<rect x="347.43" y="180.6" width="5.18" height="12" fill="#606063"/>
<rect x="353.61" y="180.6" width="5.18" height="12" fill="#606063"/>
<rect x="359.8" y="180.6" width="5.18" height="12" fill="#606063"/>
<rect x="365.98" y="180.6" width="5.18" height="12" fill="#606063"/>
<rect x="372.16" y="180.6" width="5.18" height="12" fill="#606063"/>
<rect x="378.35" y="180.6" width="5.18" height="12" fill="#606063"/>
<rect x="384.53" y="180.6" width="5.18" height="12" fill="#606063"/>
<rect x="390.72" y="180.6" width="5.18" height="12" fill="#606063"/>
<rect x="396.9" y="180.6" width="5.18" height="12" fill="#606063"/>
<rect x="403.08" y="180.6" width="5.18" height="12" fill="#606063"/>
<rect x="409.27" y="180.6" width="5.18" height="12" fill="#606063"/>
<rect x="415.45" y="180.6" width="5.18" height="12" fill="#606063"/>
<rect x="421.64" y="180.6" width="5.18" height="12" fill="#606063"/>
<rect x="427.82" y="180.6" width="5.18" height="12" fill="#606063"/>
<rect x="434" y="180.6" width="5.18" height="12" fill="#606063"/>
<rect x="440.19" y="180.6" width="5.18" height="12" fill="#606063"/>
<rect x="446.37" y="180.6" width="5.18" height="12" fill="#606063"/>
<rect x="452.56" y="180.6" width="5.18" height="12" fill="#606063"/>
<rect x="458.74" y="180.6" width="5.18" height="12" fill="#606063"/>
<rect x="464.92" y="180.6" width="5.18" height="12" fill="#606063"/>
<rect x="471.11" y="180.6" width="5.18" height="12" fill="#606063"/>
<rect x="477.29" y="180.6" width="5.18" height="12" fill="#606063"/>
<rect x="483.48" y="180.6" width="5.18" height="12" fill="#606063"/>
<rect x="30.8" y="196.3" width="8.4" height="7.9" fill="#d8711c"/>
<text x="41.3" y="202.1" font-family='"Liberation Serif", serif' font-size="5.82" font-weight="bold" text-anchor="start" fill="#000" stroke="#000" stroke-width="0.32">Whole exome sequencing + TDS</text>
<rect x="30.8" y="207.1" width="8.4" height="7.9" fill="#c4c4c4"/>
<text x="41.3" y="212.9" font-family='"Liberation Serif", serif' font-size="5.82" font-weight="bold" text-anchor="start" fill="#000" stroke="#000" stroke-width="0.32">Diagnosis, remission and relapse</text>
<rect x="30.8" y="218.3" width="8.4" height="7.9" fill="#0b0b5c"/>
<text x="41.3" y="224.1" font-family='"Liberation Serif", serif' font-size="5.82" font-weight="bold" text-anchor="start" fill="#000" stroke="#000" stroke-width="0.32">Diagnosis specific mutations</text>
<rect x="31.1" y="229.3" width="8.4" height="7.9" fill="#2bb7df"/>
<text x="39.5" y="235.1" font-family='"Liberation Serif", serif' font-size="5.82" font-weight="bold" text-anchor="start" fill="#000" stroke="#000" stroke-width="0.32">Mutations in diagnosis samples</text>
<rect x="135.5" y="196.3" width="8.4" height="7.9" fill="#7f4214"/>
<text x="147" y="202.1" font-family='"Liberation Serif", serif' font-size="5.82" font-weight="bold" text-anchor="start" fill="#000" stroke="#000" stroke-width="0.32">Targeted deep sequencing (TDS)</text>
<rect x="135.5" y="207.1" width="8.4" height="7.9" fill="#5e5e5e"/>
<text x="147" y="212.9" font-family='"Liberation Serif", serif' font-size="5.82" font-weight="bold" text-anchor="start" fill="#000" stroke="#000" stroke-width="0.32">Diagnosis and remission</text>
<rect x="135.5" y="218.3" width="8.4" height="7.9" fill="#f01010"/>
<text x="147" y="224.1" font-family='"Liberation Serif", serif' font-size="5.82" font-weight="bold" text-anchor="start" fill="#000" stroke="#000" stroke-width="0.32">Relapse specific mutations</text>
<rect x="135.5" y="228.7" width="8.4" height="7.9" fill="#990c2c"/>
<text x="146" y="234.5" font-family='"Liberation Serif", serif' font-size="5.82" font-weight="bold" text-anchor="start" fill="#000" stroke="#000" stroke-width="0.32">Mutations in relapse samples</text>
<rect x="241.2" y="207.1" width="8.4" height="7.9" fill="#000000"/>
<text x="252" y="212.9" font-family='"Liberation Serif", serif' font-size="5.82" font-weight="bold" text-anchor="start" fill="#000" stroke="#000" stroke-width="0.32">Relapse and remission</text>
<rect x="241.2" y="218.3" width="8.4" height="7.9" fill="#6a9a1c"/>
<text x="252" y="224.1" font-family='"Liberation Serif", serif' font-size="5.82" font-weight="bold" text-anchor="start" fill="#000" stroke="#000" stroke-width="0.32">Shared ( both at diagnosis and relapse)</text>
<text x="0" y="249.2" font-family='"Liberation Sans", sans-serif' font-size="10.8" font-weight="bold" text-anchor="start" fill="#000" stroke="#000" stroke-width="0.7">B</text>
<rect x="32.4" y="266.07" width="4" height="99.33" fill="#22e622"/>
<text transform="translate(37.3,370.6) rotate(-90) skewX(-8)" font-family='"Liberation Serif", serif' font-size="5.6" font-weight="bold" font-style="italic" text-anchor="end" fill="#000" stroke="#000" stroke-width="0.32">NPM1</text>
<rect x="41.67" y="283.2" width="4" height="82.2" fill="#1212c4"/>
<rect x="41.67" y="276.35" width="4" height="6.85" fill="#22e622"/>
<text transform="translate(46.57,370.6) rotate(-90) skewX(-8)" font-family='"Liberation Serif", serif' font-size="5.6" font-weight="bold" font-style="italic" text-anchor="end" fill="#000" stroke="#000" stroke-width="0.32">DNMT3A</text>
<rect x="50.94" y="358.55" width="4" height="6.85" fill="#1212c4"/>
<rect x="50.94" y="348.27" width="4" height="10.28" fill="#b40c0c"/>
<rect x="50.94" y="317.45" width="4" height="30.83" fill="#22e622"/>
<rect x="50.94" y="314.02" width="4" height="3.43" fill="#a0167e"/>
<text transform="translate(55.84,370.6) rotate(-90) skewX(-8)" font-family='"Liberation Serif", serif' font-size="5.6" font-weight="bold" font-style="italic" text-anchor="end" fill="#000" stroke="#000" stroke-width="0.32">WT1</text>
<rect x="60.21" y="351.7" width="4" height="13.7" fill="#1212c4"/>
<rect x="60.21" y="348.27" width="4" height="3.43" fill="#b40c0c"/>
<rect x="60.21" y="327.72" width="4" height="20.55" fill="#22e622"/>
<rect x="60.21" y="324.3" width="4" height="3.43" fill="#a0167e"/>
<text transform="translate(65.11,370.6) rotate(-90) skewX(-8)" font-family='"Liberation Serif", serif' font-size="5.6" font-weight="bold" font-style="italic" text-anchor="end" fill="#000" stroke="#000" stroke-width="0.32">RUNX1</text>
<rect x="69.48" y="334.57" width="4" height="30.83" fill="#1212c4"/>
<rect x="69.48" y="324.3" width="4" height="10.28" fill="#b40c0c"/>
<rect x="69.48" y="320.88" width="4" height="3.43" fill="#22e622"/>
<text transform="translate(74.38,370.6) rotate(-90) skewX(-8)" font-family='"Liberation Serif", serif' font-size="5.6" font-weight="bold" font-style="italic" text-anchor="end" fill="#000" stroke="#000" stroke-width="0.32">MLL3</text>
<rect x="78.75" y="334.57" width="4" height="30.83" fill="#1212c4"/>
<text transform="translate(83.65,370.6) rotate(-90) skewX(-8)" font-family='"Liberation Serif", serif' font-size="5.6" font-weight="bold" font-style="italic" text-anchor="end" fill="#000" stroke="#000" stroke-width="0.32">FLT3TKD</text>
<rect x="88.02" y="341.42" width="4" height="23.98" fill="#1212c4"/>
<rect x="88.02" y="338" width="4" height="3.43" fill="#b40c0c"/>
<text transform="translate(92.92,370.6) rotate(-90) skewX(-8)" font-family='"Liberation Serif", serif' font-size="5.6" font-weight="bold" font-style="italic" text-anchor="end" fill="#000" stroke="#000" stroke-width="0.32">FAT1</text>
<rect x="97.29" y="338" width="4" height="27.4" fill="#1212c4"/>
<text transform="translate(102.19,370.6) rotate(-90) skewX(-8)" font-family='"Liberation Serif", serif' font-size="5.6" font-weight="bold" font-style="italic" text-anchor="end" fill="#000" stroke="#000" stroke-width="0.32">IDH2</text>
<rect x="106.56" y="361.97" width="4" height="3.43" fill="#1212c4"/>
<rect x="106.56" y="351.7" width="4" height="10.28" fill="#b40c0c"/>
<rect x="106.56" y="341.42" width="4" height="10.28" fill="#22e622"/>
<text transform="translate(111.46,370.6) rotate(-90) skewX(-8)" font-family='"Liberation Serif", serif' font-size="5.6" font-weight="bold" font-style="italic" text-anchor="end" fill="#000" stroke="#000" stroke-width="0.32">TET2</text>
<rect x="115.83" y="344.85" width="4" height="20.55" fill="#1212c4"/>
<text transform="translate(120.73,370.6) rotate(-90) skewX(-8)" font-family='"Liberation Serif", serif' font-size="5.6" font-weight="bold" font-style="italic" text-anchor="end" fill="#000" stroke="#000" stroke-width="0.32">SRCAP</text>
<rect x="125.1" y="348.27" width="4" height="17.12" fill="#1212c4"/>
<text transform="translate(130,370.6) rotate(-90) skewX(-8)" font-family='"Liberation Serif", serif' font-size="5.6" font-weight="bold" font-style="italic" text-anchor="end" fill="#000" stroke="#000" stroke-width="0.32">FAT4</text>
<rect x="134.37" y="358.55" width="4" height="6.85" fill="#1212c4"/>
<rect x="134.37" y="355.12" width="4" height="3.43" fill="#b40c0c"/>
<rect x="134.37" y="348.27" width="4" height="6.85" fill="#22e622"/>
<text transform="translate(139.27,370.6) rotate(-90) skewX(-8)" font-family='"Liberation Serif", serif' font-size="5.6" font-weight="bold" font-style="italic" text-anchor="end" fill="#000" stroke="#000" stroke-width="0.32">ASXL1</text>
<rect x="143.64" y="351.7" width="4" height="13.7" fill="#1212c4"/>
<rect x="143.64" y="348.27" width="4" height="3.43" fill="#22e622"/>
<text transform="translate(148.54,370.6) rotate(-90) skewX(-8)" font-family='"Liberation Serif", serif' font-size="5.6" font-weight="bold" font-style="italic" text-anchor="end" fill="#000" stroke="#000" stroke-width="0.32">KDM6A</text>
<rect x="152.91" y="351.7" width="4" height="13.7" fill="#1212c4"/>
<rect x="152.91" y="348.27" width="4" height="3.43" fill="#b40c0c"/>
<text transform="translate(157.81,370.6) rotate(-90) skewX(-8)" font-family='"Liberation Serif", serif' font-size="5.6" font-weight="bold" font-style="italic" text-anchor="end" fill="#000" stroke="#000" stroke-width="0.32">LRP1</text>
<rect x="162.18" y="351.7" width="4" height="13.7" fill="#1212c4"/>
<text transform="translate(167.08,370.6) rotate(-90) skewX(-8)" font-family='"Liberation Serif", serif' font-size="5.6" font-weight="bold" font-style="italic" text-anchor="end" fill="#000" stroke="#000" stroke-width="0.32">APOB</text>
<rect x="171.45" y="351.7" width="4" height="13.7" fill="#1212c4"/>
<text transform="translate(176.35,370.6) rotate(-90) skewX(-8)" font-family='"Liberation Serif", serif' font-size="5.6" font-weight="bold" font-style="italic" text-anchor="end" fill="#000" stroke="#000" stroke-width="0.32">SF3B1</text>
<rect x="180.72" y="351.7" width="4" height="13.7" fill="#1212c4"/>
<text transform="translate(185.62,370.6) rotate(-90) skewX(-8)" font-family='"Liberation Serif", serif' font-size="5.6" font-weight="bold" font-style="italic" text-anchor="end" fill="#000" stroke="#000" stroke-width="0.32">TET1</text>
<rect x="189.99" y="361.97" width="4" height="3.43" fill="#1212c4"/>
<rect x="189.99" y="351.7" width="4" height="10.28" fill="#22e622"/>
<text transform="translate(194.89,370.6) rotate(-90) skewX(-8)" font-family='"Liberation Serif", serif' font-size="5.6" font-weight="bold" font-style="italic" text-anchor="end" fill="#000" stroke="#000" stroke-width="0.32">ARID1A</text>
<rect x="199.26" y="351.7" width="4" height="13.7" fill="#1212c4"/>
<text transform="translate(204.16,370.6) rotate(-90) skewX(-8)" font-family='"Liberation Serif", serif' font-size="5.6" font-weight="bold" font-style="italic" text-anchor="end" fill="#000" stroke="#000" stroke-width="0.32">ZFHX4</text>
<rect x="208.53" y="351.7" width="4" height="13.7" fill="#1212c4"/>
<text transform="translate(213.43,370.6) rotate(-90) skewX(-8)" font-family='"Liberation Serif", serif' font-size="5.6" font-weight="bold" font-style="italic" text-anchor="end" fill="#000" stroke="#000" stroke-width="0.32">AHNAK</text>
<rect x="217.8" y="351.7" width="4" height="13.7" fill="#1212c4"/>
<text transform="translate(222.7,370.6) rotate(-90) skewX(-8)" font-family='"Liberation Serif", serif' font-size="5.6" font-weight="bold" font-style="italic" text-anchor="end" fill="#000" stroke="#000" stroke-width="0.32">NID1</text>
<rect x="227.07" y="355.12" width="4" height="10.28" fill="#1212c4"/>
<rect x="227.07" y="351.7" width="4" height="3.43" fill="#22e622"/>
<text transform="translate(231.97,370.6) rotate(-90) skewX(-8)" font-family='"Liberation Serif", serif' font-size="5.6" font-weight="bold" font-style="italic" text-anchor="end" fill="#000" stroke="#000" stroke-width="0.32">SETD1B</text>
<rect x="236.34" y="355.12" width="4" height="10.28" fill="#1212c4"/>
<text transform="translate(241.24,370.6) rotate(-90) skewX(-8)" font-family='"Liberation Serif", serif' font-size="5.6" font-weight="bold" font-style="italic" text-anchor="end" fill="#000" stroke="#000" stroke-width="0.32">IDH1</text>
<rect x="245.61" y="361.97" width="4" height="3.43" fill="#b40c0c"/>
<rect x="245.61" y="358.55" width="4" height="3.43" fill="#22e622"/>
<rect x="245.61" y="355.12" width="4" height="3.43" fill="#a0167e"/>
<text transform="translate(250.51,370.6) rotate(-90) skewX(-8)" font-family='"Liberation Serif", serif' font-size="5.6" font-weight="bold" font-style="italic" text-anchor="end" fill="#000" stroke="#000" stroke-width="0.32">WAC1</text>
<rect x="254.88" y="355.12" width="4" height="10.28" fill="#1212c4"/>
<text transform="translate(259.78,370.6) rotate(-90) skewX(-8)" font-family='"Liberation Serif", serif' font-size="5.6" font-weight="bold" font-style="italic" text-anchor="end" fill="#000" stroke="#000" stroke-width="0.32">EPHB1</text>
<rect x="264.15" y="361.97" width="4" height="3.43" fill="#1212c4"/>
<rect x="264.15" y="355.12" width="4" height="6.85" fill="#b40c0c"/>
<text transform="translate(269.05,370.6) rotate(-90) skewX(-8)" font-family='"Liberation Serif", serif' font-size="5.6" font-weight="bold" font-style="italic" text-anchor="end" fill="#000" stroke="#000" stroke-width="0.32">NFIX</text>
<rect x="273.42" y="361.97" width="4" height="3.43" fill="#1212c4"/>
<rect x="273.42" y="358.55" width="4" height="3.43" fill="#b40c0c"/>
<rect x="273.42" y="355.12" width="4" height="3.43" fill="#22e622"/>
<text transform="translate(278.32,370.6) rotate(-90) skewX(-8)" font-family='"Liberation Serif", serif' font-size="5.6" font-weight="bold" font-style="italic" text-anchor="end" fill="#000" stroke="#000" stroke-width="0.32">MLL2</text>
<rect x="282.69" y="355.12" width="4" height="10.28" fill="#1212c4"/>
<text transform="translate(287.59,370.6) rotate(-90) skewX(-8)" font-family='"Liberation Serif", serif' font-size="5.6" font-weight="bold" font-style="italic" text-anchor="end" fill="#000" stroke="#000" stroke-width="0.32">EZH2</text>
<rect x="291.96" y="358.55" width="4" height="6.85" fill="#1212c4"/>
<rect x="291.96" y="355.12" width="4" height="3.43" fill="#a0167e"/>
<text transform="translate(296.86,370.6) rotate(-90) skewX(-8)" font-family='"Liberation Serif", serif' font-size="5.6" font-weight="bold" font-style="italic" text-anchor="end" fill="#000" stroke="#000" stroke-width="0.32">GATA2</text>
<rect x="301.23" y="361.97" width="4" height="3.43" fill="#1212c4"/>
<rect x="301.23" y="355.12" width="4" height="6.85" fill="#22e622"/>
<text transform="translate(306.13,370.6) rotate(-90) skewX(-8)" font-family='"Liberation Serif", serif' font-size="5.6" font-weight="bold" font-style="italic" text-anchor="end" fill="#000" stroke="#000" stroke-width="0.32">BCOL1</text>
<line x1="29.6" y1="255.4" x2="29.6" y2="365.9" stroke="#000" stroke-width="1.1"/>
<line x1="27.0" y1="365.4" x2="29.6" y2="365.4" stroke="#000" stroke-width="1"/>
<text x="24.6" y="367.2" font-family='"Liberation Serif", serif' font-size="5.2" font-weight="bold" text-anchor="end" fill="#000" stroke="#000" stroke-width="0.32">0</text>
<line x1="27.0" y1="351.7" x2="29.6" y2="351.7" stroke="#000" stroke-width="1"/>
<text x="24.6" y="353.5" font-family='"Liberation Serif", serif' font-size="5.2" font-weight="bold" text-anchor="end" fill="#000" stroke="#000" stroke-width="0.32">5</text>
<line x1="27.0" y1="338" x2="29.6" y2="338" stroke="#000" stroke-width="1"/>
<text x="24.6" y="339.8" font-family='"Liberation Serif", serif' font-size="5.2" font-weight="bold" text-anchor="end" fill="#000" stroke="#000" stroke-width="0.32">10</text>
<line x1="27.0" y1="324.3" x2="29.6" y2="324.3" stroke="#000" stroke-width="1"/>
<text x="24.6" y="326.1" font-family='"Liberation Serif", serif' font-size="5.2" font-weight="bold" text-anchor="end" fill="#000" stroke="#000" stroke-width="0.32">15</text>
<line x1="27.0" y1="310.6" x2="29.6" y2="310.6" stroke="#000" stroke-width="1"/>
<text x="24.6" y="312.4" font-family='"Liberation Serif", serif' font-size="5.2" font-weight="bold" text-anchor="end" fill="#000" stroke="#000" stroke-width="0.32">20</text>
<line x1="27.0" y1="296.9" x2="29.6" y2="296.9" stroke="#000" stroke-width="1"/>
<text x="24.6" y="298.7" font-family='"Liberation Serif", serif' font-size="5.2" font-weight="bold" text-anchor="end" fill="#000" stroke="#000" stroke-width="0.32">25</text>
<line x1="27.0" y1="283.2" x2="29.6" y2="283.2" stroke="#000" stroke-width="1"/>
<text x="24.6" y="285" font-family='"Liberation Serif", serif' font-size="5.2" font-weight="bold" text-anchor="end" fill="#000" stroke="#000" stroke-width="0.32">30</text>
<line x1="27.0" y1="269.5" x2="29.6" y2="269.5" stroke="#000" stroke-width="1"/>
<text x="24.6" y="271.3" font-family='"Liberation Serif", serif' font-size="5.2" font-weight="bold" text-anchor="end" fill="#000" stroke="#000" stroke-width="0.32">35</text>
<line x1="27.0" y1="255.8" x2="29.6" y2="255.8" stroke="#000" stroke-width="1"/>
<text x="24.6" y="257.6" font-family='"Liberation Serif", serif' font-size="5.2" font-weight="bold" text-anchor="end" fill="#000" stroke="#000" stroke-width="0.32">40</text>
<line x1="29.1" y1="365.4" x2="307.5" y2="365.4" stroke="#000" stroke-width="1.1"/>
<line x1="29.77" y1="365.4" x2="29.77" y2="368.3" stroke="#000" stroke-width="1.1"/>
<line x1="39.03" y1="365.4" x2="39.03" y2="368.3" stroke="#000" stroke-width="1.1"/>
<line x1="48.3" y1="365.4" x2="48.3" y2="368.3" stroke="#000" stroke-width="1.1"/>
<line x1="57.58" y1="365.4" x2="57.58" y2="368.3" stroke="#000" stroke-width="1.1"/>
<line x1="66.84" y1="365.4" x2="66.84" y2="368.3" stroke="#000" stroke-width="1.1"/>
<line x1="76.11" y1="365.4" x2="76.11" y2="368.3" stroke="#000" stroke-width="1.1"/>
<line x1="85.38" y1="365.4" x2="85.38" y2="368.3" stroke="#000" stroke-width="1.1"/>
<line x1="94.66" y1="365.4" x2="94.66" y2="368.3" stroke="#000" stroke-width="1.1"/>
<line x1="103.92" y1="365.4" x2="103.92" y2="368.3" stroke="#000" stroke-width="1.1"/>
<line x1="113.19" y1="365.4" x2="113.19" y2="368.3" stroke="#000" stroke-width="1.1"/>
<line x1="122.46" y1="365.4" x2="122.46" y2="368.3" stroke="#000" stroke-width="1.1"/>
<line x1="131.74" y1="365.4" x2="131.74" y2="368.3" stroke="#000" stroke-width="1.1"/>
<line x1="141" y1="365.4" x2="141" y2="368.3" stroke="#000" stroke-width="1.1"/>
<line x1="150.27" y1="365.4" x2="150.27" y2="368.3" stroke="#000" stroke-width="1.1"/>
<line x1="159.55" y1="365.4" x2="159.55" y2="368.3" stroke="#000" stroke-width="1.1"/>
<line x1="168.81" y1="365.4" x2="168.81" y2="368.3" stroke="#000" stroke-width="1.1"/>
<line x1="178.08" y1="365.4" x2="178.08" y2="368.3" stroke="#000" stroke-width="1.1"/>
<line x1="187.36" y1="365.4" x2="187.36" y2="368.3" stroke="#000" stroke-width="1.1"/>
<line x1="196.62" y1="365.4" x2="196.62" y2="368.3" stroke="#000" stroke-width="1.1"/>
<line x1="205.89" y1="365.4" x2="205.89" y2="368.3" stroke="#000" stroke-width="1.1"/>
<line x1="215.16" y1="365.4" x2="215.16" y2="368.3" stroke="#000" stroke-width="1.1"/>
<line x1="224.44" y1="365.4" x2="224.44" y2="368.3" stroke="#000" stroke-width="1.1"/>
<line x1="233.7" y1="365.4" x2="233.7" y2="368.3" stroke="#000" stroke-width="1.1"/>
<line x1="242.97" y1="365.4" x2="242.97" y2="368.3" stroke="#000" stroke-width="1.1"/>
<line x1="252.25" y1="365.4" x2="252.25" y2="368.3" stroke="#000" stroke-width="1.1"/>
<line x1="261.51" y1="365.4" x2="261.51" y2="368.3" stroke="#000" stroke-width="1.1"/>
<line x1="270.78" y1="365.4" x2="270.78" y2="368.3" stroke="#000" stroke-width="1.1"/>
<line x1="280.06" y1="365.4" x2="280.06" y2="368.3" stroke="#000" stroke-width="1.1"/>
<line x1="289.32" y1="365.4" x2="289.32" y2="368.3" stroke="#000" stroke-width="1.1"/>
<line x1="298.59" y1="365.4" x2="298.59" y2="368.3" stroke="#000" stroke-width="1.1"/>
<line x1="307.86" y1="365.4" x2="307.86" y2="368.3" stroke="#000" stroke-width="1.1"/>
<text transform="translate(5.9,311) rotate(-90)" font-family='"Liberation Serif", serif' font-size="5.8" font-weight="bold" text-anchor="middle" fill="#000" stroke="#000" stroke-width="0.32">% Frequency of somatic mutations in</text>
<text transform="translate(13.5,308.9) rotate(-90)" font-family='"Liberation Serif", serif' font-size="5.95" font-weight="bold" text-anchor="middle" fill="#000" stroke="#000" stroke-width="0.32">80 <tspan font-style="italic">FLT3</tspan>-ITD AML patients</text>
<rect x="53" y="285" width="7.9" height="8" fill="#1212c4"/>
<text x="63.5" y="291.2" font-family='"Liberation Serif", serif' font-size="5.82" font-weight="bold" text-anchor="start" fill="#000" stroke="#000" stroke-width="0.32">Missense Mutations</text>
<rect x="116.8" y="285" width="7.9" height="8" fill="#b40c0c"/>
<text x="126.9" y="291.2" font-family='"Liberation Serif", serif' font-size="5.82" font-weight="bold" text-anchor="start" fill="#000" stroke="#000" stroke-width="0.32">Nonsense Mutations</text>
<rect x="180.5" y="285" width="7.9" height="8" fill="#22e622"/>
<text x="190" y="291.2" font-family='"Liberation Serif", serif' font-size="5.82" font-weight="bold" text-anchor="start" fill="#000" stroke="#000" stroke-width="0.32">Indel&#160; Mutations</text>
<rect x="237" y="285" width="7.9" height="8" fill="#c8148c"/>
<text x="246.9" y="291.2" font-family='"Liberation Serif", serif' font-size="5.82" font-weight="bold" text-anchor="start" fill="#000" stroke="#000" stroke-width="0.32">Splice site&#160; Mutations</text>
<text x="325" y="251.6" font-family='"Liberation Sans", sans-serif' font-size="11.8" font-weight="bold" text-anchor="start" fill="#000" stroke="#000" stroke-width="0.6">C</text>
<rect x="372.35" y="275.1" width="8.4" height="90.4" fill="#9633f2" stroke="#7a2ad4" stroke-width="0.5"/>
<text transform="translate(378.45,381) rotate(-90) skewX(-12)" font-family='"Liberation Serif", serif' font-size="5.6" font-weight="bold" font-style="italic" text-anchor="middle" fill="#000" stroke="#000" stroke-width="0.32">FLT3TKD</text>
<rect x="388.72" y="297.76" width="8.4" height="67.74" fill="#9633f2" stroke="#7a2ad4" stroke-width="0.5"/>
<text transform="translate(394.82,381) rotate(-90) skewX(-12)" font-family='"Liberation Serif", serif' font-size="5.6" font-weight="bold" font-style="italic" text-anchor="middle" fill="#000" stroke="#000" stroke-width="0.32">WT1</text>
<rect x="405.09" y="297.76" width="8.4" height="67.74" fill="#9633f2" stroke="#7a2ad4" stroke-width="0.5"/>
<text transform="translate(411.19,381) rotate(-90) skewX(-12)" font-family='"Liberation Serif", serif' font-size="5.6" font-weight="bold" font-style="italic" text-anchor="middle" fill="#000" stroke="#000" stroke-width="0.32">ASXL1</text>
<rect x="421.46" y="297.76" width="8.4" height="67.74" fill="#9633f2" stroke="#7a2ad4" stroke-width="0.5"/>
<text transform="translate(427.56,381) rotate(-90) skewX(-12)" font-family='"Liberation Serif", serif' font-size="5.6" font-weight="bold" font-style="italic" text-anchor="middle" fill="#000" stroke="#000" stroke-width="0.32">MLL3</text>
<rect x="437.83" y="297.76" width="8.4" height="67.74" fill="#9633f2" stroke="#7a2ad4" stroke-width="0.5"/>
<text transform="translate(443.93,381) rotate(-90) skewX(-12)" font-family='"Liberation Serif", serif' font-size="5.6" font-weight="bold" font-style="italic" text-anchor="middle" fill="#000" stroke="#000" stroke-width="0.32">JHDM1D</text>
<rect x="454.2" y="320.43" width="8.4" height="45.07" fill="#9633f2" stroke="#7a2ad4" stroke-width="0.5"/>
<text transform="translate(460.3,381) rotate(-90) skewX(-12)" font-family='"Liberation Serif", serif' font-size="5.6" font-weight="bold" font-style="italic" text-anchor="middle" fill="#000" stroke="#000" stroke-width="0.32">SETD1A</text>
<rect x="470.57" y="320.43" width="8.4" height="45.07" fill="#9633f2" stroke="#7a2ad4" stroke-width="0.5"/>
<text transform="translate(476.67,381) rotate(-90) skewX(-12)" font-family='"Liberation Serif", serif' font-size="5.6" font-weight="bold" font-style="italic" text-anchor="middle" fill="#000" stroke="#000" stroke-width="0.32">EPHB1</text>
<rect x="486.94" y="320.43" width="8.4" height="45.07" fill="#9633f2" stroke="#7a2ad4" stroke-width="0.5"/>
<text transform="translate(493.04,381) rotate(-90) skewX(-12)" font-family='"Liberation Serif", serif' font-size="5.6" font-weight="bold" font-style="italic" text-anchor="middle" fill="#000" stroke="#000" stroke-width="0.32">KDM6A</text>
<rect x="503.31" y="320.43" width="8.4" height="45.07" fill="#9633f2" stroke="#7a2ad4" stroke-width="0.5"/>
<text transform="translate(509.41,381) rotate(-90) skewX(-12)" font-family='"Liberation Serif", serif' font-size="5.6" font-weight="bold" font-style="italic" text-anchor="middle" fill="#000" stroke="#000" stroke-width="0.32">FAT4</text>
<line x1="364.3" y1="256.32" x2="364.3" y2="366" stroke="#111" stroke-width="1.1"/>
<line x1="360.3" y1="365.5" x2="364.3" y2="365.5" stroke="#111" stroke-width="1"/>
<text x="357.7" y="367.3" font-family='"Liberation Serif", serif' font-size="5.3" font-weight="bold" text-anchor="end" fill="#000" stroke="#000" stroke-width="0.32">0</text>
<line x1="360.3" y1="347.37" x2="364.3" y2="347.37" stroke="#111" stroke-width="1"/>
<text x="357.7" y="349.17" font-family='"Liberation Serif", serif' font-size="5.3" font-weight="bold" text-anchor="end" fill="#000" stroke="#000" stroke-width="0.32">1</text>
<line x1="360.3" y1="329.24" x2="364.3" y2="329.24" stroke="#111" stroke-width="1"/>
<text x="357.7" y="331.04" font-family='"Liberation Serif", serif' font-size="5.3" font-weight="bold" text-anchor="end" fill="#000" stroke="#000" stroke-width="0.32">2</text>
<line x1="360.3" y1="311.11" x2="364.3" y2="311.11" stroke="#111" stroke-width="1"/>
<text x="357.7" y="312.91" font-family='"Liberation Serif", serif' font-size="5.3" font-weight="bold" text-anchor="end" fill="#000" stroke="#000" stroke-width="0.32">3</text>
<line x1="360.3" y1="292.98" x2="364.3" y2="292.98" stroke="#111" stroke-width="1"/>
<text x="357.7" y="294.78" font-family='"Liberation Serif", serif' font-size="5.3" font-weight="bold" text-anchor="end" fill="#000" stroke="#000" stroke-width="0.32">4</text>
<line x1="360.3" y1="274.85" x2="364.3" y2="274.85" stroke="#111" stroke-width="1"/>
<text x="357.7" y="276.65" font-family='"Liberation Serif", serif' font-size="5.3" font-weight="bold" text-anchor="end" fill="#000" stroke="#000" stroke-width="0.32">5</text>
<line x1="360.3" y1="256.72" x2="364.3" y2="256.72" stroke="#111" stroke-width="1"/>
<text x="357.7" y="258.52" font-family='"Liberation Serif", serif' font-size="5.3" font-weight="bold" text-anchor="end" fill="#000" stroke="#000" stroke-width="0.32">6</text>
<line x1="363.8" y1="365.5" x2="512.5" y2="365.5" stroke="#111" stroke-width="1.1"/>
<text transform="translate(341.5,311.6) rotate(-90)" font-family='"Liberation Serif", serif' font-size="5.87" font-weight="bold" text-anchor="middle" fill="#000" stroke="#000" stroke-width="0.32">% Frequency of somatic mutations in</text>
<text transform="translate(348.3,311.3) rotate(-90)" font-family='"Liberation Serif", serif' font-size="5.87" font-weight="bold" text-anchor="middle" fill="#000" stroke="#000" stroke-width="0.32">relapse phase (50 Trios)</text>
</svg>
</body></html>
